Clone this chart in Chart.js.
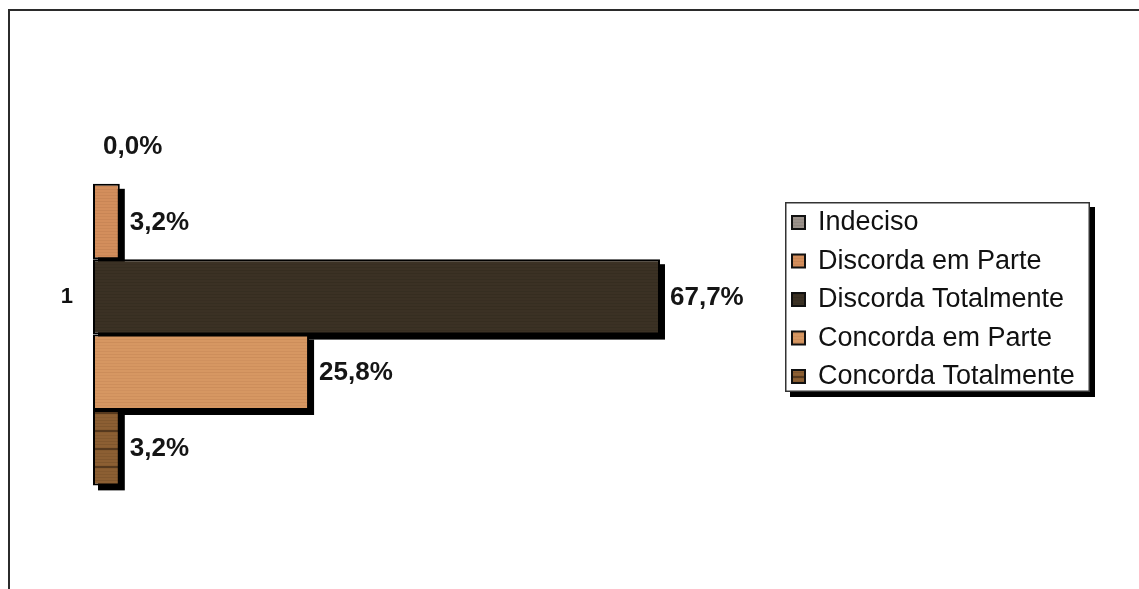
<!DOCTYPE html>
<html>
<head>
<meta charset="utf-8">
<script src="https://cdn.jsdelivr.net/npm/chart.js@4.4.1/dist/chart.umd.min.js"></script>
<style>
  html, body { margin: 0; padding: 0; background: #ffffff; }
  canvas { display: block; }
</style>
</head>
<body>
<canvas id="chart" width="1139" height="589"></canvas>
<script>
// ---- data ----
const categories = ['1'];
const seriesNames = ['Indeciso', 'Discorda em Parte', 'Discorda Totalmente', 'Concorda em Parte', 'Concorda Totalmente'];
const indeciso = [0.0];
const discordaEmParte = [3.2];
const discordaTotalmente = [67.7];
const concordaEmParte = [25.8];
const concordaTotalmente = [3.2];
const xMin = 0;
const xMax = 80;

const FONT = '"Liberation Sans", Arial, sans-serif';

// Wood-grain style fill: base colour with fine horizontal streaks
function grain(base, streak, period, plankLine) {
  const c = document.createElement('canvas');
  c.width = 64; c.height = period;
  const g = c.getContext('2d');
  g.fillStyle = base;
  g.fillRect(0, 0, c.width, c.height);
  g.fillStyle = streak;
  for (let y = 0; y < period; y += 3) {
    g.globalAlpha = 0.10 + 0.08 * ((y * 7) % 5) / 4;
    g.fillRect(0, y, c.width, 1);
  }
  if (plankLine) {
    g.globalAlpha = 0.55;
    g.fillStyle = plankLine;
    g.fillRect(0, period - 2, c.width, 2);
  }
  return g.createPattern(c, 'repeat');
}

const fills = [
  grain('#9a918a', '#5a524c', 12),
  grain('#d38e5c', '#8c5530', 12),
  grain('#3b3124', '#1c160f', 12),
  grain('#d69762', '#a0633a', 15),
  grain('#8c5f33', '#4a3018', 18, '#2a1a0c')
];

const seriesValues = [indeciso, discordaEmParte, discordaTotalmente, concordaEmParte, concordaTotalmente];

// Offset black shadows behind every bar, drawn before the bars themselves
const barShadows = {
  id: 'barShadows',
  beforeDatasetsDraw(chart) {
    const ctx = chart.ctx;
    ctx.save();
    ctx.fillStyle = '#000000';
    chart.data.datasets.forEach((ds, i) => {
      chart.getDatasetMeta(i).data.forEach(bar => {
        const { x, y, base, height } = bar.getProps(['x', 'y', 'base', 'height'], true);
        const l = Math.min(x, base), r = Math.max(x, base);
        if (r - l < 0.5) return;
        ctx.fillRect(l + 5, y - height / 2 + 5, r - l, height);
      });
    });
    ctx.restore();
  }
};

// Percentage labels at the end of each bar
const valueLabels = {
  id: 'valueLabels',
  afterDatasetsDraw(chart) {
    const ctx = chart.ctx;
    ctx.save();
    ctx.font = 'bold 26px ' + FONT;
    ctx.fillStyle = '#151515';
    ctx.textAlign = 'left';
    ctx.textBaseline = 'middle';
    chart.data.datasets.forEach((ds, i) => {
      chart.getDatasetMeta(i).data.forEach((bar, j) => {
        const { x, y } = bar.getProps(['x', 'y'], true);
        const txt = ds.data[j].toFixed(1).replace('.', ',') + '%';
        ctx.fillText(txt, x + 10, y + 1);
      });
    });
    ctx.restore();
  }
};

// Outer frame and boxed legend with drop shadow
const frameAndLegend = {
  id: 'frameAndLegend',
  afterDraw(chart) {
    const ctx = chart.ctx;
    ctx.save();
    // frame
    ctx.strokeStyle = '#2b2b2b';
    ctx.lineWidth = 2;
    ctx.beginPath();
    ctx.moveTo(9, 589);
    ctx.lineTo(9, 10);
    ctx.lineTo(1139, 10);
    ctx.stroke();

    // legend box
    const bx = 785, by = 202, bw = 305, bh = 190;
    ctx.fillStyle = '#000000';
    ctx.fillRect(bx + 5, by + 5, bw, bh);
    ctx.fillStyle = '#ffffff';
    ctx.fillRect(bx, by, bw, bh);
    ctx.strokeStyle = '#333333';
    ctx.lineWidth = 1.5;
    ctx.strokeRect(bx + 0.75, by + 0.75, bw - 1.5, bh - 1.5);

    ctx.font = '27px ' + FONT;
    ctx.textAlign = 'left';
    ctx.textBaseline = 'middle';
    chart.data.datasets.forEach((ds, i) => {
      const cy = 222 + i * 38.5;
      ctx.fillStyle = '#111111';
      ctx.fillRect(791, cy - 7, 15, 15);
      ctx.fillStyle = ds.backgroundColor;
      ctx.fillRect(793, cy - 5, 11, 11);
      ctx.fillStyle = '#111111';
      ctx.fillText(ds.label, 818, cy + 1);
    });
    ctx.restore();
  }
};

new Chart(document.getElementById('chart'), {
  type: 'bar',
  data: {
    labels: categories,
    datasets: seriesNames.map((name, i) => ({
      label: name,
      data: seriesValues[i],
      backgroundColor: fills[i],
      borderColor: '#000000',
      borderWidth: 2,
      borderSkipped: false,
      barPercentage: 1.0,
      categoryPercentage: 0.728
    }))
  },
  options: {
    indexAxis: 'y',
    responsive: false,
    devicePixelRatio: 1,
    animation: false,
    layout: { padding: { left: 43, right: 376, top: 38, bottom: 16 } },
    scales: {
      x: { display: false, min: xMin, max: xMax },
      y: {
        display: true,
        grid: { display: false, drawTicks: false },
        border: { display: false },
        ticks: { font: { family: FONT, size: 22, weight: 'bold' }, color: '#111111', padding: 20 },
        afterFit(scale) { scale.width = 50; }
      }
    },
    plugins: {
      legend: { display: false },
      tooltip: { enabled: false }
    }
  },
  plugins: [barShadows, valueLabels, frameAndLegend]
});
</script>
</body>
</html>
